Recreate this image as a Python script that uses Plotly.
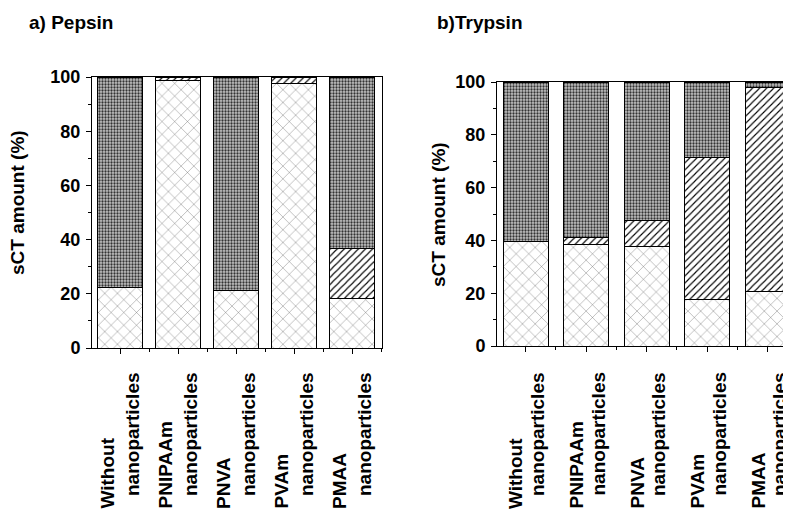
import plotly.graph_objects as go

categories = ["Without", "PNIPAAm", "PNVA", "PVAm", "PMAA"]
category_second_line = ["nanoparticles"] * 5

# Pepsin (%): bottom (dashed pattern), middle (hatched), top (dark stipple)
pepsin_bottom = [22.5, 98.8, 21.1, 97.6, 18.1]
pepsin_middle = [0.0, 1.2, 0.0, 2.4, 18.7]
pepsin_top = [77.5, 0.0, 78.9, 0.0, 63.2]

# Trypsin (%)
trypsin_bottom = [39.5, 38.6, 37.8, 17.6, 20.5]
trypsin_middle = [0.0, 2.4, 9.8, 53.8, 77.6]
trypsin_top = [60.5, 59.0, 52.4, 28.6, 1.9]

y_tick_vals = [0, 20, 40, 60, 80, 100]
y_title = "sCT amount (%)"
panel_titles = ["a) Pepsin", "b)Trypsin"]

W, H = 791, 511
OFF = 8  # page body margin
FONT = "Liberation Sans, Arial, Helvetica, sans-serif"


def px_x(p):
    return (p - OFF) / W


def px_y(p):
    return (H - (p - OFF)) / H


styles = [
    dict(shape="x", fgcolor="#555555", bgcolor="white", size=9, solidity=0.08),
    dict(shape="/", fgcolor="black", bgcolor="white", size=5, solidity=0.22),
    dict(shape=".", fgcolor="#333333", bgcolor="#c4c4c4", size=3, solidity=0.45),
]

fig = go.Figure()
xs = list(range(len(categories)))
panels = [
    ("x", "y", [pepsin_bottom, pepsin_middle, pepsin_top], 45 / 58),
    ("x2", "y2", [trypsin_bottom, trypsin_middle, trypsin_top], 45 / 60.5),
]
for xa, ya, series, bw in panels:
    for vals, st in zip(series, styles):
        fig.add_trace(go.Bar(
            x=xs, y=vals, xaxis=xa, yaxis=ya, width=bw,
            marker=dict(color="white", line=dict(color="black", width=1),
                        pattern=dict(fillmode="replace", **st)),
            showlegend=False, hoverinfo="skip",
        ))

axis_common = dict(showline=True, linecolor="black", linewidth=1, mirror=True,
                   showgrid=False, zeroline=False, automargin=False)
xaxis_common = dict(axis_common, tickmode="array", tickvals=xs, showticklabels=False,
                    ticks="outside", ticklen=5, tickcolor="black",
                    minor=dict(tickvals=[i + 0.5 for i in range(-1, 5)], ticks="outside",
                               ticklen=3, tickcolor="black"))
yaxis_common = dict(axis_common, range=[0, 100], tickmode="array", tickvals=y_tick_vals,
                    ticks="outside", ticklen=5, tickcolor="black", ticklabelstandoff=2,
                    tickfont=dict(family=FONT, size=18, color="black", weight="bold"),
                    minor=dict(dtick=10, ticks="outside", ticklen=3, tickcolor="black"))

left_rng = [-28 / 58, 4 + 30 / 58]
right_rng = [-28.5 / 60.5, 4 + (792 - 767.5) / 60.5]

fig.update_layout(
    width=W, height=H, margin=dict(l=0, r=0, t=0, b=0, pad=0, autoexpand=False),
    paper_bgcolor="white", plot_bgcolor="white", barmode="stack",
    font=dict(family=FONT, color="black"),
    xaxis=dict(xaxis_common, domain=[px_x(92), px_x(382)], range=left_rng, anchor="y"),
    yaxis=dict(yaxis_common, domain=[px_y(348), px_y(77)], anchor="x"),
    xaxis2=dict(xaxis_common, domain=[px_x(497), px_x(792)], range=right_rng, anchor="y2"),
    yaxis2=dict(yaxis_common, domain=[px_y(346), px_y(82)], anchor="x2"),
)

lab_font = dict(family=FONT, size=19, color="black", weight="bold")
for xref, off1, off2 in [("x", -13 / 58, 12 / 58), ("x2", -10 / 60.5, 11.5 / 60.5)]:
    for i, (l1, l2) in enumerate(zip(categories, category_second_line)):
        fig.add_annotation(x=i + off1, y=px_y(510), xref=xref, yref="paper",
                           text=l1, textangle=-90, showarrow=False,
                           xanchor="center", yanchor="bottom", font=lab_font, borderpad=0)
        fig.add_annotation(x=i + off2, y=px_y(497), xref=xref, yref="paper",
                           text=l2, textangle=-90, showarrow=False,
                           xanchor="center", yanchor="bottom", font=lab_font, borderpad=0)

title_font = dict(family=FONT, size=19, color="black", weight="bold")
for xc, yc in [(17, 203), (438, 215)]:
    fig.add_annotation(x=px_x(xc), y=px_y(yc), xref="paper", yref="paper",
                       text=y_title, textangle=-90, showarrow=False,
                       xanchor="center", yanchor="middle", font=title_font)

for xl, txt in [(27, panel_titles[0]), (435, panel_titles[1])]:
    fig.add_annotation(x=px_x(xl), y=px_y(22), xref="paper", yref="paper",
                       text=txt, showarrow=False, xanchor="left", yanchor="middle",
                       font=dict(family=FONT, size=19, color="black", weight="bold"))

fig.write_html("out.html")
